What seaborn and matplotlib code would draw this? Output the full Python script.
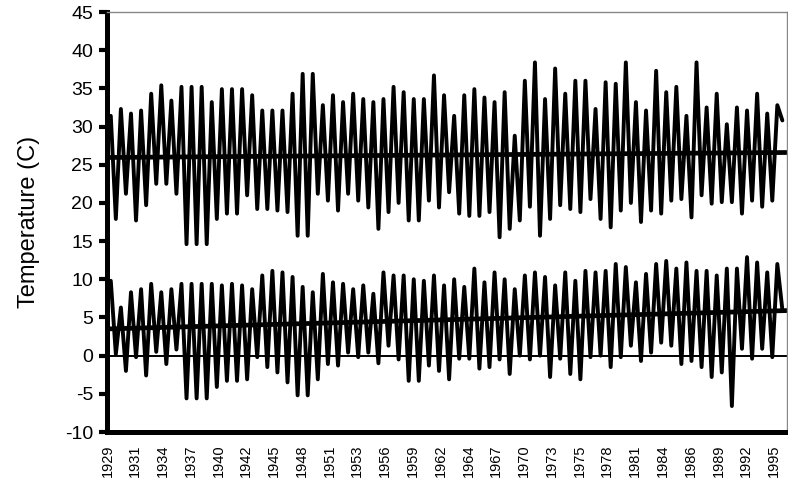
import numpy as np
import pandas as pd
import matplotlib.pyplot as plt
import seaborn as sns

# ========== DATA ==========
# monthly record starts in March 1929; summer high read at July, winter low at January
years = list(range(1929, 1996))
summer_month = 4      # July, months after start of each record year
winter_month = 10     # January
last_month = 802

# upper series (maximum temperature) - summer peaks and winter lows per year
max_peaks = [31.4, 32.3, 31.7, 32.1, 34.3, 35.4, 33.4, 35.2, 35.2, 35.2, 33.2,
             34.9, 34.9, 34.9, 34.1, 32.1, 32.1, 32.1, 34.3, 36.9, 36.9, 32.8,
             34.1, 33.2, 34.3, 33.6, 33.2, 33.6, 35.2, 34.5, 33.6, 33.6, 36.7, 34.1,
             31.4, 34.1, 34.9, 33.8, 33.2, 34.5, 28.8, 36.0, 38.4, 33.6, 37.6,
             34.3, 36.0, 36.0, 32.3, 35.8, 35.6, 38.4, 33.2, 32.1, 37.3, 34.5,
             35.2, 31.4, 38.4, 32.5, 34.3, 30.3, 32.5, 32.1, 34.3, 31.7, 32.8]
max_lows = [17.9, 21.2, 17.7, 19.7, 22.5, 22.5, 21.2, 14.6, 14.6, 14.6, 17.9,
            18.6, 18.6, 21.0, 19.2, 19.2, 19.0, 18.8, 15.7, 15.7, 21.2, 20.3,
            19.0, 21.2, 20.3, 19.4, 16.6, 18.8, 20.0, 17.7, 17.7, 20.3, 19.4, 21.4,
            18.6, 18.3, 18.3, 18.8, 15.5, 16.6, 17.7, 19.5, 15.7, 17.9, 19.7,
            19.2, 18.8, 20.5, 17.9, 16.8, 19.0, 20.0, 17.5, 19.0, 18.6, 20.3,
            20.5, 18.1, 21.0, 19.9, 20.1, 20.1, 18.6, 20.3, 19.5, 20.3]
max_last = 30.8

# lower series (minimum temperature)
min_peaks = [9.8, 6.3, 8.3, 8.7, 9.4, 8.3, 8.7, 9.4, 9.4, 9.4, 9.4,
             9.2, 9.4, 9.2, 8.7, 10.5, 11.1, 10.9, 10.3, 9.0, 8.3, 10.7,
             9.6, 9.4, 8.7, 9.2, 8.1, 10.9, 10.5, 10.5, 10.0, 9.8, 10.5, 9.2,
             10.0, 9.0, 11.4, 9.6, 10.9, 10.0, 8.7, 10.5, 10.9, 10.3, 9.2,
             10.9, 9.8, 11.1, 10.9, 11.1, 12.0, 11.6, 9.6, 10.7, 12.0, 12.4,
             11.4, 12.2, 11.1, 11.1, 10.5, 11.4, 11.4, 12.9, 12.2, 10.9, 12.0]
min_lows = [0.2, -2.0, -0.2, -2.6, 0.5, -1.1, 0.8, -5.6, -5.6, -5.6, -4.1,
            -3.3, -3.3, -3.1, -0.2, -1.5, -2.2, -3.5, -5.2, -5.2, -3.1, -1.1,
            -1.3, 0.4, -0.2, 0.4, -1.0, 1.3, -0.5, -3.3, -3.3, -1.3, -2.0, -3.1,
            -0.4, -0.4, -1.7, -1.5, -0.5, -2.4, 0.0, -0.5, 0.0, -2.8, -0.4,
            -2.4, -3.1, -0.2, 0.0, -1.5, -0.2, 1.3, -0.7, 0.4, 1.7, 1.3,
            -1.1, -0.7, -1.5, -2.8, -2.2, -6.6, 0.9, -0.4, 0.9, -0.2]
min_last = 6.0

# linear trends (value at first and last month)
max_trend = [25.95, 26.6]
min_trend = [3.5, 5.9]

tick_labels = ["1929", "1931", "1934", "1937", "1940", "1942", "1945", "1948",
               "1951", "1953", "1956", "1959", "1962", "1964", "1967", "1970",
               "1973", "1975", "1978", "1981", "1984", "1986", "1989", "1992",
               "1995"]
tick_step = 33
n_months = 808


def build(peaks, lows, last):
    month, temp = [], []
    for i, yr in enumerate(years):
        base = (yr - years[0]) * 12
        month.append(base + summer_month)
        temp.append(peaks[i])
        if i < len(lows):
            month.append(base + winter_month)
            temp.append(lows[i])
    month.append(last_month)
    temp.append(last)
    return pd.DataFrame({"month": month, "temp": temp})


df_max = build(max_peaks, max_lows, max_last)
df_min = build(min_peaks, min_lows, min_last)
trend_x = [0, n_months - 1]
df_trend_max = pd.DataFrame({"month": trend_x, "temp": max_trend})
df_trend_min = pd.DataFrame({"month": trend_x, "temp": min_trend})

# ========== PLOT ==========
sns.set_style("white")
plt.rcParams["font.family"] = ["Liberation Sans", "DejaVu Sans"]
plt.rcParams["axes.unicode_minus"] = False

fig = plt.figure(figsize=(7.88, 4.86), dpi=100)
ax = fig.add_axes([107 / 788, 54 / 486, 680 / 788, 420 / 486])

ax.axhline(0, color="black", lw=1.4, zorder=1)
sns.lineplot(data=df_max, x="month", y="temp", color="black", lw=2.8, ax=ax)
sns.lineplot(data=df_min, x="month", y="temp", color="black", lw=2.8, ax=ax)
sns.lineplot(data=df_trend_max, x="month", y="temp", color="black", lw=3.4, ax=ax)
sns.lineplot(data=df_trend_min, x="month", y="temp", color="black", lw=3.4, ax=ax)

ax.set_xlim(-0.5, n_months - 0.5)
ax.set_ylim(-10, 45)
ax.set_yticks(np.arange(-10, 46, 5))
ax.set_xticks(np.arange(0, len(tick_labels) * tick_step, tick_step))
ax.set_xticklabels(tick_labels, rotation=90, fontsize=10.5, color="black")
ax.tick_params(axis="y", labelsize=14, labelcolor="black", direction="out",
               length=6, width=3, color="black", left=True, pad=4)
ax.tick_params(axis="x", length=0, pad=9)

ax.set_xlabel("")
ax.set_ylabel("Temperature (C)", fontsize=17, color="black", labelpad=18)

for side in ["left", "bottom"]:
    ax.spines[side].set_color("black")
    ax.spines[side].set_linewidth(3.6)
for side in ["top", "right"]:
    ax.spines[side].set_color("#888888")
    ax.spines[side].set_linewidth(1)

fig.savefig("out.png", dpi=100)
plt.close()
